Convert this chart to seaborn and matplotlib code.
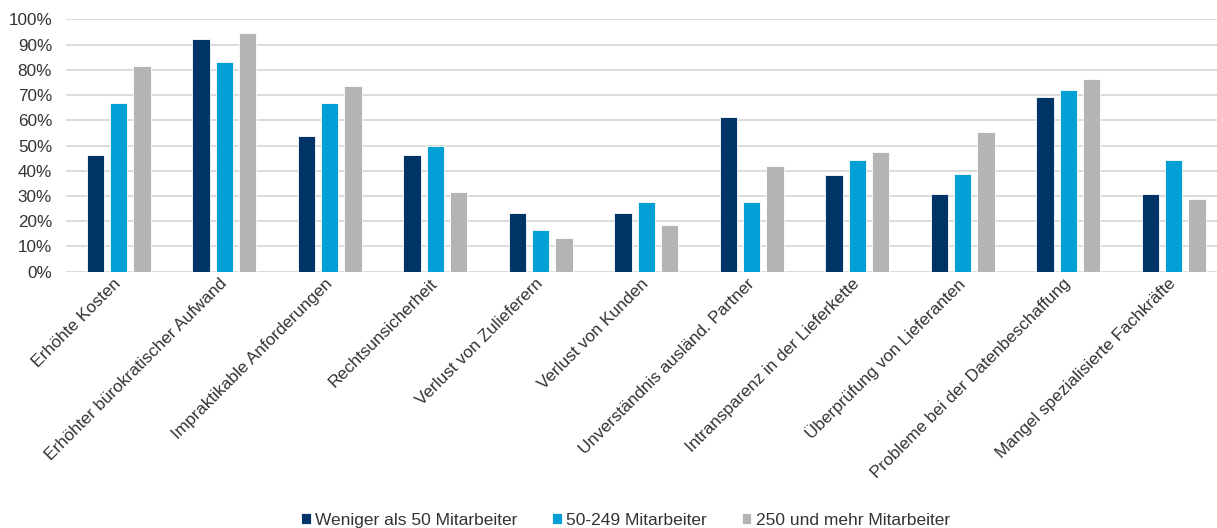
import pandas as pd
import numpy as np
import seaborn as sns
import matplotlib.pyplot as plt
from matplotlib.ticker import PercentFormatter, MultipleLocator

# Daten (Anteile in %)
kategorien = ['Erhöhte Kosten', 'Erhöhter bürokratischer Aufwand',
              'Impraktikable Anforderungen', 'Rechtsunsicherheit',
              'Verlust von Zulieferern', 'Verlust von Kunden',
              'Unverständnis ausländ. Partner', 'Intransparenz in der Lieferkette',
              'Überprüfung von Lieferanten', 'Probleme bei der Datenbeschaffung',
              'Mangel spezialisierte Fachkräfte']
gruppen = ['Weniger als 50 Mitarbeiter', '50-249 Mitarbeiter', '250 und mehr Mitarbeiter']
klein = [46.2, 92.3, 53.8, 46.2, 23.1, 23.1, 61.5, 38.5, 30.8, 69.2, 30.8]
mittel = [66.7, 83.3, 66.7, 50.0, 16.7, 27.8, 27.8, 44.4, 38.9, 72.2, 44.4]
gross = [81.6, 94.7, 73.7, 31.6, 13.2, 18.4, 42.1, 47.4, 55.3, 76.3, 28.9]
farben = ['#003466', '#00a0d6', '#b3b4b6']

df = pd.DataFrame({
    'Kategorie': kategorien * 3,
    'Gruppe': [gruppen[0]] * 11 + [gruppen[1]] * 11 + [gruppen[2]] * 11,
    'Wert': klein + mittel + gross,
})

sns.set_style('white')
plt.rcParams['font.family'] = ['Liberation Sans', 'DejaVu Sans']
textfarbe = '#333333'

fig = plt.figure(figsize=(12.17, 5.28), dpi=100)
# Achse reicht rechts etwas über den Bildrand hinaus (wie im Original abgeschnitten)
ax = fig.add_axes([0.0542, 0.4854, 0.9536, 0.4777])

sns.barplot(data=df, x='Kategorie', y='Wert', hue='Gruppe', palette=farben,
            saturation=1, width=0.66, gap=0.25, edgecolor='white', linewidth=0.6,
            errorbar=None, ax=ax, zorder=3)

ax.set_ylim(0, 100)
ax.set_xlim(-0.5, 10.5)
ax.yaxis.set_major_locator(MultipleLocator(10))
ax.yaxis.set_major_formatter(PercentFormatter(100, decimals=0))
ax.grid(axis='y', color='#d9d9d9', linewidth=1.3, zorder=0)
ax.set_axisbelow(True)
for s in ax.spines.values():
    s.set_visible(False)
ax.set_xlabel('')
ax.set_ylabel('')
ax.tick_params(axis='both', length=0, labelsize=12.3, colors=textfarbe)
ax.tick_params(axis='y', pad=10)
ax.tick_params(axis='x', pad=7)
plt.setp(ax.get_xticklabels(), rotation=45, ha='right', va='center',
         rotation_mode='anchor')

handles, labels = ax.get_legend_handles_labels()
ax.get_legend().remove()
fig.legend(handles, labels, loc='center', bbox_to_anchor=(0.514, 0.015),
           ncol=3, frameon=False, fontsize=12.5, handlelength=0.55,
           handleheight=0.55, handletextpad=0.25, columnspacing=2.0,
           labelcolor=textfarbe)

plt.savefig('out.png', dpi=100)
